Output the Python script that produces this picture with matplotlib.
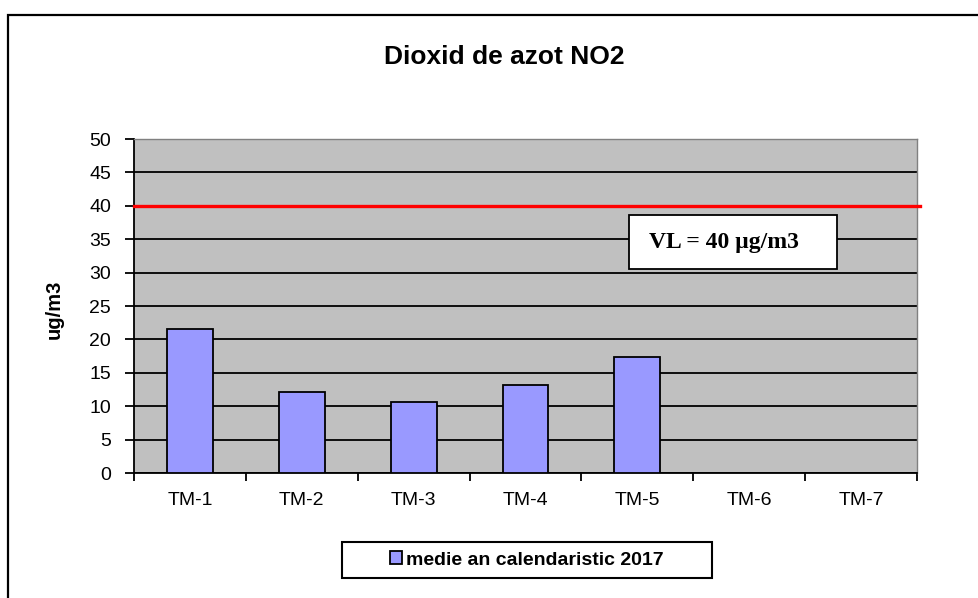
import numpy as np
import matplotlib
matplotlib.use('Agg')
import matplotlib.pyplot as plt
from matplotlib.patches import Rectangle

# data
stations = ['TM-1', 'TM-2', 'TM-3', 'TM-4', 'TM-5', 'TM-6', 'TM-7']
no2_mean = [21.5, 12.2, 10.7, 13.1, 17.3, np.nan, np.nan]
limit_value = 40
yticks = np.arange(0, 55, 5)
series_label = 'medie an calendaristic 2017'
vl_text = 'VL = 40 \u00b5g/m3'

plt.rcParams['font.family'] = ['Liberation Sans', 'DejaVu Sans']

fig = plt.figure(figsize=(9.79, 5.98), dpi=100)
ax = fig.add_axes([134/979, 1-473/598, (917-134)/979, (473-139)/598])
ax.set_facecolor('#C0C0C0')

x = np.arange(len(stations))
ax.bar(x, no2_mean, width=0.41, color='#9999FF', edgecolor='black', linewidth=1.3, zorder=3,
       label=series_label)

ax.set_xlim(-0.5, len(stations)-0.5)
ax.set_ylim(0, 50)
ax.set_yticks(yticks)
ax.grid(axis='y', color='black', linewidth=1.3, zorder=1)
ax.set_axisbelow(True)

# limit value line, running a bit past the plot area
ax.axhline(limit_value, xmin=0, xmax=1.004, color='#FF0000', linewidth=2.4, zorder=4, clip_on=False)

ax.set_xticks(x)
ax.set_xticklabels(stations)
ax.set_xticks(np.arange(-0.5, len(stations)), minor=True)
ax.tick_params(axis='x', which='major', length=0, pad=14, labelsize=14)
ax.tick_params(axis='x', which='minor', length=6, width=1.3, direction='out')
ax.tick_params(axis='y', length=6.5, width=1.3, pad=10, labelsize=14)

for s in ['left', 'bottom']:
    ax.spines[s].set_color('black')
    ax.spines[s].set_linewidth(1.3)
for s in ['top', 'right']:
    ax.spines[s].set_color('#808080')
    ax.spines[s].set_linewidth(1.0)

ax.set_ylabel('ug/m3', fontsize=14.5, fontweight='bold')
ax.yaxis.set_label_coords(-0.09, 0.49)

fig.text(504/979, 1-57/598, 'Dioxid de azot NO2', ha='center', va='center',
         fontsize=19, fontweight='bold')

# VL box
ax.add_patch(Rectangle((3.925, 30.5), 1.86, 8.1, facecolor='white', edgecolor='black',
                       linewidth=1.3, zorder=5))
ax.text(4.77, 34.55, vl_text, ha='center', va='center', fontsize=17, fontweight='bold',
        family=['Liberation Serif', 'DejaVu Serif'], zorder=6)

# legend with a square frame
fig.patches.append(Rectangle((342/979, 1-578/598), 370/979, 36/598, transform=fig.transFigure,
                             facecolor='white', edgecolor='black', linewidth=1.5))
leg = fig.legend(loc='center', bbox_to_anchor=(527/979, 1-560/598), frameon=False,
                 prop={'weight': 'bold', 'size': 14}, handlelength=0.6, handleheight=0.6,
                 handletextpad=0.2)

# outer chart border (left and top visible)
fig.patches.append(Rectangle((8/979, -0.05), 1.0, 1-15/598+0.05, transform=fig.transFigure,
                             facecolor='none', edgecolor='black', linewidth=1.6))

fig.savefig('out.png', dpi=100)
